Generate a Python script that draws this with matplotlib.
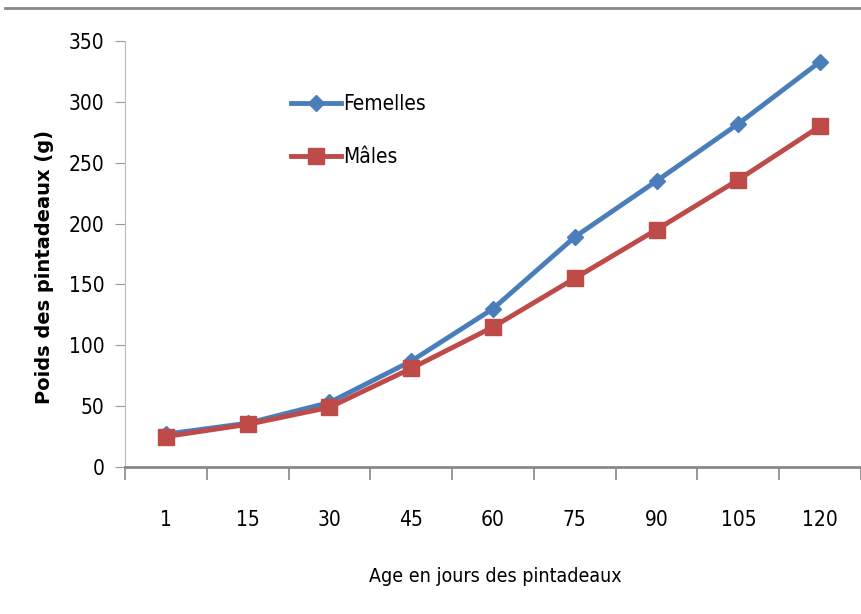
import matplotlib.pyplot as plt
from matplotlib.lines import Line2D
import numpy as np

# poids moyens des pintadeaux selon l'age
ages = ['1', '15', '30', '45', '60', '75', '90', '105', '120']
femelles = [27, 36, 53, 87, 130, 189, 235, 282, 333]
males = [25, 35, 49, 81, 115, 155, 195, 236, 280]

plt.rcParams['font.family'] = ['DejaVu Sans']
plt.rcParams['font.stretch'] = 'condensed'

fig = plt.figure(figsize=(8.61, 6.14), dpi=100)
ax = fig.add_axes([125 / 861, 1 - 467 / 614, 1 - 125 / 861, (467 - 41) / 614])

x = np.arange(len(ages))
ax.plot(x, femelles, color='#4a7ebb', lw=3.5, marker='D', ms=8, label='Femelles')
ax.plot(x, males, color='#be4b48', lw=3.5, marker='s', ms=12, label='Mâles')

ax.set_xlim(-0.5, 8.42)
ax.set_ylim(0, 350)
ax.set_yticks(range(0, 351, 50))
ax.tick_params(axis='y', length=7, color='#999999', labelsize=15, pad=8)

# graduations entre les categories, etiquettes au centre
ax.set_xticks(np.arange(-0.5, 9, 1))
ax.set_xticklabels([])
ax.set_xticks(x, minor=True)
ax.set_xticklabels(ages, minor=True)
ax.tick_params(axis='x', which='major', length=9, color='#888888', width=1.2)
ax.tick_params(axis='x', which='minor', length=0, labelsize=15, pad=31)

for s in ['top', 'right']:
    ax.spines[s].set_visible(False)
ax.spines['left'].set_color('#bbbbbb')
ax.spines['bottom'].set_color('#888888')
ax.spines['bottom'].set_linewidth(2)

ax.set_ylabel('Poids des pintadeaux (g)', fontsize=14, fontweight='bold',
              fontstretch='normal')
ax.yaxis.set_label_coords(-0.097, 0.469)
ax.set_xlabel('Age en jours des pintadeaux', fontsize=14)
ax.xaxis.set_label_coords(0.503, -0.235)

ax.legend(loc='upper left', bbox_to_anchor=(0.2, 0.92), frameon=False,
          fontsize=15, handlelength=2.4, handletextpad=0.1, labelspacing=1.6)

fig.add_artist(Line2D([5 / 861, 1], [1 - 8 / 614, 1 - 8 / 614],
                      color='#888888', lw=2))

fig.savefig('out.png', dpi=100)
